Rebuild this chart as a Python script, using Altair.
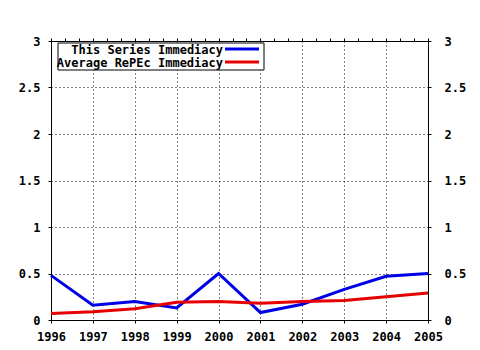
import altair as alt
import pandas as pd

years = [1996, 1997, 1998, 1999, 2000, 2001, 2002, 2003, 2004, 2005]
series_vals = [0.48, 0.16, 0.20, 0.13, 0.50, 0.08, 0.17, 0.33, 0.47, 0.50]
repec_vals = [0.07, 0.09, 0.12, 0.19, 0.20, 0.18, 0.20, 0.21, 0.25, 0.29]
names = ["This Series Immediacy", "Average RePEc Immediacy"]
colors = ["#0000e6", "#e60000"]
y_ticks = [0, 0.5, 1, 1.5, 2, 2.5, 3]
minor_x = [1996 + i / 3 for i in range(28)]

rows = []
for n, vals in zip(names, [series_vals, repec_vals]):
    for yr, v in zip(years, vals):
        rows.append({"year": yr, "value": v, "series": n})
df = pd.DataFrame(rows)

FONT = "DejaVu Sans Mono"
LBL = dict(labelFont=FONT, labelFontSize=12, labelFontWeight="bold", labelColor="black")
xs = alt.Scale(domain=[1996, 2005], nice=False, zero=False)
ys = alt.Scale(domain=[0, 3], nice=False)

lines = alt.Chart(df).mark_line(strokeWidth=3).encode(
    x=alt.X("year:Q", scale=xs, title=None,
            axis=alt.Axis(values=years, format="d", grid=True, gridColor="black",
                          gridDash=[1, 3], gridOpacity=1, tickSize=3, tickColor="black",
                          domainColor="black", labelPadding=8, labelFlush=False,
                          labelOverlap=False, **LBL)),
    y=alt.Y("value:Q", scale=ys, title=None,
            axis=alt.Axis(values=y_ticks, format="~g", grid=True, gridColor="black",
                          gridDash=[1, 3], gridOpacity=1, tickSize=3, tickColor="black",
                          domainColor="black", labelPadding=8, labelFlush=False, **LBL)),
    color=alt.Color("series:N", scale=alt.Scale(domain=names, range=colors), legend=None),
    detail="series:N",
)

ghost = alt.Chart(df).mark_line(opacity=0).encode(
    x=alt.X("year:Q", scale=xs, title=None,
            axis=alt.Axis(orient="top", values=minor_x, labels=False, grid=False,
                          tickSize=3, tickColor="black", domainColor="black")),
    y=alt.Y("value:Q", scale=ys, title=None,
            axis=alt.Axis(orient="right", values=y_ticks, format="~g", grid=False,
                          tickSize=3, tickColor="black", domainColor="black",
                          labelPadding=13, labelFlush=False, **LBL)),
    detail="series:N",
)

box = alt.Chart(pd.DataFrame({"a": [0]})).mark_rect(
    fill="white", stroke="black", strokeWidth=1
).encode(x=alt.value(7), x2=alt.value(213), y=alt.value(2), y2=alt.value(29))

leg_layers = [box]
for i, (n, c) in enumerate(zip(names, colors)):
    one = alt.Chart(pd.DataFrame({"name": [n]}))
    leg_layers.append(one.mark_text(
        align="right", baseline="middle", font=FONT, fontSize=12, fontWeight="bold",
        color="black").encode(text="name:N", x=alt.value(172), y=alt.value(9 + 13 * i)))
    leg_layers.append(one.mark_rule(color=c, strokeWidth=3).encode(
        x=alt.value(174), x2=alt.value(208), y=alt.value(8 + 13 * i)))

chart = alt.layer(lines, ghost, *leg_layers).resolve_scale(
    x="independent", y="independent"
).properties(
    width=377, height=279,
    background="white",
    autosize=alt.AutoSizeParams(type="none"),
    padding={"left": 51, "top": 41, "right": 52, "bottom": 30},
).configure_view(stroke="black", strokeWidth=1)

chart.save("out.html", embed_options={"renderer": "svg", "actions": False})
